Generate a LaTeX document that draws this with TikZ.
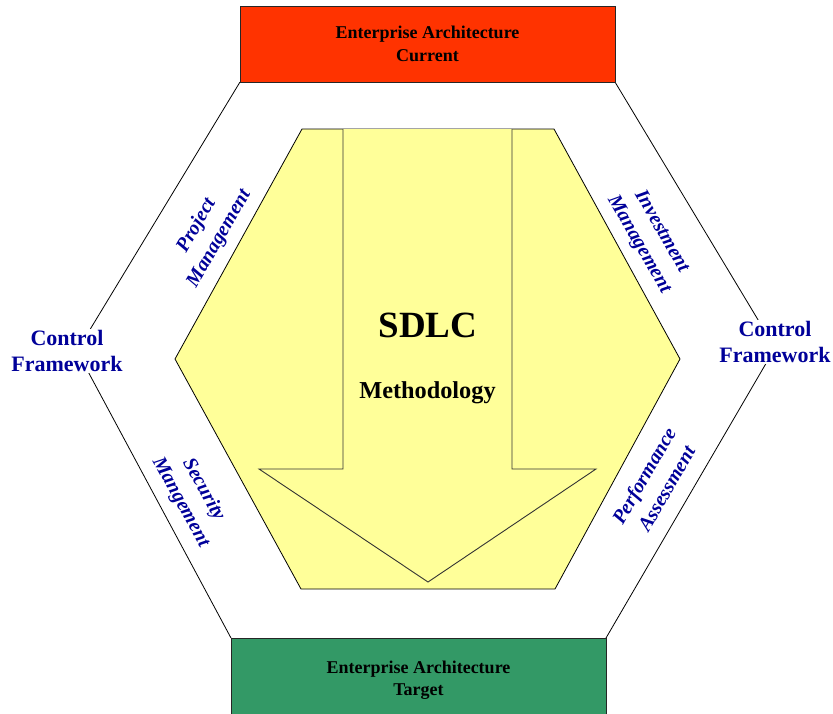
\documentclass[tikz,border=0pt]{standalone}
\usepackage{fontspec}
\setmainfont{Liberation Serif}
\definecolor{eared}{HTML}{FF3300}
\definecolor{eagreen}{HTML}{339966}
\definecolor{sdlcyellow}{HTML}{FFFF99}
\definecolor{lblue}{HTML}{000099}
\tikzset{
  eabox/.style={draw=black!85, line width=0.9pt, minimum width=375pt, inner sep=0pt, align=center,
    font=\fontsize{18}{22.5}\selectfont\bfseries},
  ctrl/.style={fill=white, inner sep=1pt, align=center, text=lblue,
    font=\fontsize{22}{26}\selectfont\bfseries},
  mgmt/.style={inner sep=0pt, align=center, text=lblue,
    font=\fontsize{20}{26}\selectfont\bfseries\itshape},
  edge/.style={draw=black, line width=0.8pt},
}
\begin{document}
\begin{tikzpicture}[x=1pt,y=-1pt]
\useasboundingbox (0,0) rectangle (833,713);
% outer hexagon vertices
\coordinate (otl) at (240,82);
\coordinate (otr) at (615,82);
\coordinate (ol) at (77,351);
\coordinate (or) at (775,348);
\coordinate (obl) at (231,638);
\coordinate (obr) at (606,638);
\draw[edge] (otl) -- (ol) -- (obl);
\draw[edge] (otr) -- (or) -- (obr);
% inner hexagon
\coordinate (itl) at (302,129);
\coordinate (itr) at (554,129);
\coordinate (ir) at (680,359);
\coordinate (ibr) at (555,589);
\coordinate (ibl) at (301,589);
\coordinate (il) at (175,359);
\filldraw[fill=sdlcyellow, draw=black, line width=0.8pt] (itl) -- (itr) -- (ir) -- (ibr) -- (ibl) -- (il) -- cycle;
% arrow
\coordinate (a1) at (343,129);
\coordinate (a2) at (343,469);
\coordinate (a3) at (259,469);
\coordinate (a4) at (428,582);
\coordinate (a5) at (596,469);
\coordinate (a6) at (512,469);
\coordinate (a7) at (512,129);
\fill[sdlcyellow] (a1) -- (a2) -- (a3) -- (a4) -- (a5) -- (a6) -- (a7) -- cycle;
\draw[draw=black!80, line width=0.9pt, line join=miter] (a1) -- (a2) -- (a3) -- (a4) -- (a5) -- (a6) -- (a7);
% boxes
\node[eabox, fill=eared, minimum height=76pt] (cur) at (427.5,44) {Enterprise Architecture\\Current};
\node[eabox, fill=eagreen, minimum height=84pt] (tgt) at (418.5,680) {Enterprise Architecture\\Target};
% centre texts
\node[anchor=base, inner sep=0pt, font=\fontsize{37}{40}\selectfont\bfseries] (sdlc) at (428,337) {SDLC};
\node[anchor=base, inner sep=0pt, font=\fontsize{24.3}{28}\selectfont\bfseries] (meth) at (427.5,398) {Methodology};
% control framework
\node[ctrl] (cfl) at (67,351) {Control\\Framework};
\node[ctrl] (cfr) at (775,342) {Control\\Framework};
% management labels
\node[mgmt, rotate=60] (pm) at (208,232) {Project\\Management};
\node[mgmt, rotate=-60] (im) at (650,238) {Investment\\Management};
\node[mgmt, rotate=-61] (sm) at (192,496) {Security\\Mangement};
\node[mgmt, rotate=60] (pa) at (655,482) {Performance\\Assessment};
\end{tikzpicture}
\end{document}
